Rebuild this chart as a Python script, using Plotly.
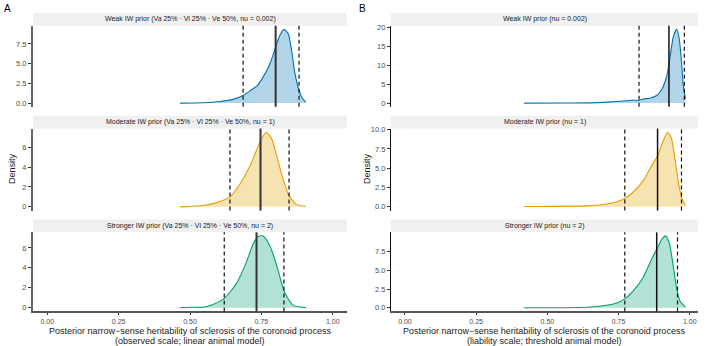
import plotly.graph_objects as go

W, H = 708, 346

# ---------------- data ----------------
x_ticks = [0.0, 0.25, 0.5, 0.75, 1.0]
x_tick_labels = ["0.00", "0.25", "0.50", "0.75", "1.00"]

strip_left = [
    "Weak IW prior (Va 25% · Vl 25% · Ve 50%, nu = 0.002)",
    "Moderate IW prior (Va 25% · Vl 25% · Ve 50%, nu = 1)",
    "Stronger IW prior (Va 25% · Vl 25% · Ve 50%, nu = 2)",
]
strip_right = [
    "Weak IW prior (nu = 0.002)",
    "Moderate IW prior (nu = 1)",
    "Stronger IW prior (nu = 2)",
]

title_left = ["Posterior narrow−sense heritability of sclerosis of the coronoid process",
              "(observed scale; linear animal model)"]
title_right = ["Posterior narrow−sense heritability of sclerosis of the coronoid process",
               "(liability scale; threshold animal model)"]

# Left (observed scale; linear animal model)
L1_x = [0.465, 0.547, 0.605, 0.651, 0.686, 0.716, 0.735, 0.756, 0.780, 0.800, 0.815, 0.830, 0.844, 0.855, 0.867, 0.882, 0.896, 0.906]
L1_y = [0.0, 0.05, 0.2, 0.47, 0.97, 1.7, 2.2, 3.3, 5.0, 7.1, 8.6, 9.35, 8.8, 6.9, 3.9, 1.6, 0.47, 0.13]
L2_x = [0.465, 0.547, 0.590, 0.640, 0.675, 0.710, 0.733, 0.750, 0.768, 0.786, 0.803, 0.826, 0.847, 0.873, 0.906]
L2_y = [0.0, 0.14, 0.4, 1.0, 2.3, 4.1, 5.7, 6.85, 7.5, 6.85, 5.2, 2.8, 1.1, 0.25, 0.04]
L3_x = [0.465, 0.500, 0.547, 0.580, 0.622, 0.663, 0.698, 0.721, 0.739, 0.756, 0.780, 0.803, 0.832, 0.861, 0.906]
L3_y = [0.0, 0.06, 0.05, 0.33, 1.0, 2.45, 4.6, 6.4, 7.15, 7.2, 6.2, 4.3, 1.5, 0.27, 0.02]

# Right (liability scale; threshold animal model)
R1_x = [0.418, 0.579, 0.696, 0.778, 0.800, 0.822, 0.837, 0.860, 0.884, 0.901, 0.919, 0.930, 0.942, 0.954, 0.963, 0.972, 0.977, 0.985]
R1_y = [0.0, 0.02, 0.2, 0.6, 0.8, 0.7, 1.1, 1.3, 2.0, 3.5, 7.0, 11.7, 17.4, 19.4, 17.0, 10.0, 4.8, 1.1]
R2_x = [0.418, 0.638, 0.696, 0.743, 0.772, 0.800, 0.837, 0.866, 0.887, 0.905, 0.922, 0.936, 0.948, 0.960, 0.972, 0.985]
R2_y = [0.04, 0.13, 0.3, 0.65, 1.08, 1.86, 3.4, 5.3, 6.6, 8.35, 9.65, 8.8, 6.2, 3.2, 1.08, 0.2]
R3_x = [0.418, 0.638, 0.708, 0.743, 0.772, 0.800, 0.837, 0.866, 0.884, 0.901, 0.915, 0.928, 0.942, 0.954, 0.966, 0.985]
R3_y = [0.0, 0.08, 0.35, 0.65, 1.2, 2.2, 4.1, 6.5, 7.8, 9.1, 9.62, 8.7, 5.6, 2.6, 0.87, 0.1]

# posterior point estimate and 95% interval
L_mean = [0.800, 0.747, 0.733]
L_lo = [0.686, 0.640, 0.620]
L_hi = [0.882, 0.847, 0.829]
R_mean = [0.927, 0.887, 0.884]
R_lo = [0.822, 0.772, 0.772]
R_hi = [0.981, 0.971, 0.957]

L_yticks = [[0, 2.5, 5, 7.5], [0, 2, 4, 6], [0, 2, 4, 6]]
L_yticklabels = [["0.0", "2.5", "5.0", "7.5"], ["0", "2", "4", "6"], ["0", "2", "4", "6"]]
R_yticks = [[0, 5, 10, 15, 20], [0, 2.5, 5, 7.5, 10], [0, 2.5, 5, 7.5]]
R_yticklabels = [["0", "5", "10", "15", "20"], ["0.0", "2.5", "5.0", "7.5", "10.0"], ["0.0", "2.5", "5.0", "7.5"]]

colors = ["#0072B2", "#E69F00", "#009E73"]
fills = ["rgba(0,114,178,0.3)", "rgba(230,159,0,0.3)", "rgba(0,158,115,0.3)"]

# ---------------- layout geometry (pixels) ----------------
LX = (33, 347)
RX = (391, 698)
panel_rows = [(23, 105), (127, 210), (232, 312)]
strip_rows = [(10, 23), (114, 127), (219, 232)]
FONT = "Liberation Sans, Arial, sans-serif"


def fx(p):
    return p / W


def fy(p):
    return 1 - p / H


fig = go.Figure()
layout = dict(
    width=W, height=H, margin=dict(l=0, r=0, t=0, b=0),
    paper_bgcolor="white", plot_bgcolor="white", showlegend=False,
    font=dict(family=FONT, size=8, color="#4d4d4d"),
)
shapes = []
annotations = []

left_data = [(L1_x, L1_y), (L2_x, L2_y), (L3_x, L3_y)]
right_data = [(R1_x, R1_y), (R2_x, R2_y), (R3_x, R3_y)]

axis_i = 0
for side, (xs, data, means, los, his, yt, ytl, strips, xrng, ycol, ywid, mcol, mwid) in enumerate([
    (LX, left_data, L_mean, L_lo, L_hi, L_yticks, L_yticklabels, strip_left, [-0.05, 1.05], "#666666", 2, "#333333", 2),
    (RX, right_data, R_mean, R_lo, R_hi, R_yticks, R_yticklabels, strip_right, [-0.049, 1.029], "#111111", 1.3, "#111111", 1.5),
]):
    for r in range(3):
        axis_i += 1
        suffix = "" if axis_i == 1 else str(axis_i)
        xa, ya = "x" + suffix, "y" + suffix
        dx, dy = data[r]
        ymax = max(dy)
        fig.add_trace(go.Scatter(
            x=dx, y=dy, xaxis=xa, yaxis=ya, mode="lines",
            line=dict(color=colors[r], width=1.1, shape="spline", smoothing=0.6),
            fill="tozeroy", fillcolor=fills[r], hoverinfo="skip",
        ))
        py0, py1 = panel_rows[r]
        bottom = r == 2
        layout["xaxis" + suffix] = dict(
            domain=[fx(xs[0]), fx(xs[1])], anchor=ya, range=xrng,
            showgrid=False, zeroline=False,
            showline=bottom, linecolor="#555555", linewidth=1.5,
            ticks="outside" if bottom else "", ticklen=2, tickcolor="#333333",
            tickvals=x_ticks, ticktext=x_tick_labels, showticklabels=bottom,
            tickfont=dict(size=7, color="#4d4d4d"),
        )
        layout["yaxis" + suffix] = dict(
            domain=[fy(py1), fy(py0)], anchor=xa,
            range=[-0.05 * ymax, 1.05 * ymax],
            showgrid=False, zeroline=False,
            showline=True, linecolor=ycol, linewidth=ywid,
            ticks="outside", ticklen=3, tickcolor="#333333",
            tickvals=yt[r], ticktext=ytl[r],
            tickfont=dict(size=7.5, color="#4d4d4d"),
        )
        # vertical lines
        for v, dash, col, wd in [(los[r], "4px,3px", "#111111", 1.2),
                                 (his[r], "4px,3px", "#111111", 1.2),
                                 (means[r], "solid", mcol, mwid)]:
            shapes.append(dict(type="line", xref=xa, yref=ya + " domain",
                               x0=v, x1=v, y0=0, y1=1,
                               line=dict(color=col, width=wd, dash=dash)))
        # strip
        s0, s1 = strip_rows[r]
        shapes.append(dict(type="rect", xref="paper", yref="paper",
                           x0=fx(xs[0]), x1=fx(xs[1]), y0=fy(s1), y1=fy(s0),
                           fillcolor="#f0f0f0", line=dict(width=0), layer="below"))
        annotations.append(dict(xref="paper", yref="paper",
                                x=fx((xs[0] + xs[1]) / 2), y=fy((s0 + s1) / 2),
                                text=strips[r], showarrow=False,
                                font=dict(size=7, color="#1a1a1a"),
                                xanchor="center", yanchor="middle"))

# Density labels
for xpx in (12, 367):
    annotations.append(dict(xref="paper", yref="paper", x=fx(xpx), y=fy(168),
                            text="Density", textangle=-90, showarrow=False,
                            font=dict(size=9, color="#1a1a1a"),
                            xanchor="center", yanchor="middle"))

# x titles (two lines each)
for cx, lines in ((190, title_left), (544, title_right)):
    for ypx, txt in zip((331.5, 341.5), lines):
        annotations.append(dict(xref="paper", yref="paper", x=fx(cx), y=fy(ypx),
                                text=txt, showarrow=False,
                                font=dict(size=9, color="#1a1a1a"),
                                xanchor="center", yanchor="middle"))

# panel tags
annotations.append(dict(xref="paper", yref="paper", x=fx(7), y=fy(5.5), text="A",
                        showarrow=False, font=dict(size=10, color="black"),
                        xanchor="center", yanchor="middle"))
annotations.append(dict(xref="paper", yref="paper", x=fx(362), y=fy(5.5), text="B",
                        showarrow=False, font=dict(size=10, color="black"),
                        xanchor="center", yanchor="middle"))

layout["shapes"] = shapes
layout["annotations"] = annotations
fig.update_layout(**layout)
fig.write_html("out.html")
